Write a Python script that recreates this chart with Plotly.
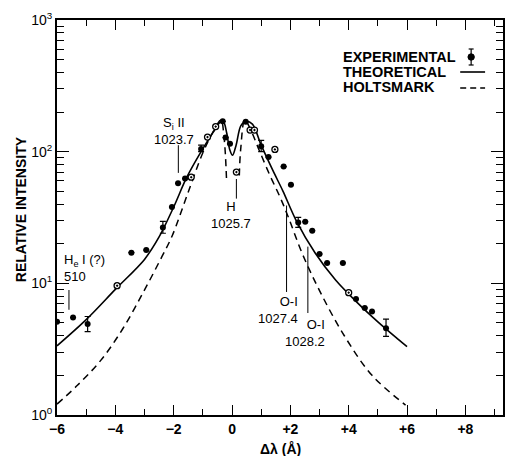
import plotly.graph_objects as go

# ---------------- data ----------------
# experimental points (filled)
exp_x = [-6.0, -5.45, -4.95, -3.45, -2.94, -2.37, -2.06, -1.85, -1.61, -1.06,
         -0.32, -0.22, -0.07, 0.47, 1.0, 1.25, 1.77, 2.02, 2.27, 2.51, 2.75,
         3.0, 3.26, 3.80, 4.25, 4.55, 4.80, 5.28]
exp_y = [5.1, 5.5, 4.9, 17.1, 17.9, 26.5, 38, 57.5, 62.5, 105,
         170, 128, 115, 169, 110, 91, 77, 56, 29, 29.4, 25.1,
         16.7, 14.3, 14.3, 7.6, 6.5, 6.1, 4.55]
exp_err_plus = [0, 0, 0.7, 0, 0, 3.0, 0, 0, 0, 7,
                0, 0, 0, 0, 12, 0, 0, 0, 2.7, 0, 0,
                0, 0, 0, 0, 0, 0, 0.8]
exp_err_minus = [0, 0, 0.6, 0, 0, 2.5, 0, 0, 0, 5,
                 0, 0, 0, 0, 10, 0, 0, 0, 2.4, 0, 0,
                 0, 0, 0, 0, 0, 0, 0.6]
# experimental points (open)
open_x = [-3.94, -1.40, -0.84, -0.56, 0.15, 0.62, 0.77, 1.47, 4.0]
open_y = [9.6, 64, 129, 155, 70, 146, 146, 104, 8.5]

# theoretical curve
theo_x = [-6, -5, -4, -3, -2.5, -2.0, -1.55, -1.05, -0.65, -0.42, -0.3, -0.18,
          -0.08, 0.02, 0.14, 0.3, 0.47, 0.7, 1.0, 1.4, 1.75, 2.2, 2.85, 3.55,
          4.25, 5.0, 5.7, 6.0]
theo_y = [3.35, 5.3, 9.0, 15.2, 22.5, 38, 64, 101, 140, 166, 170, 138,
          104, 94, 112, 157, 170, 162, 112, 72, 50, 30, 17, 10.6,
          7.3, 5.1, 3.75, 3.3]

# Holtsmark curve (two branches)
holt_x = [-6, -5.3, -4.5, -3.75, -3.05, -2.4, -2.05, -1.55, -1.0, -0.6, -0.38,
          -0.27, -0.19, None, 0.25, 0.3, 0.44, 0.62, 0.92, 1.3, 1.65, 1.95,
          2.4, 3.0, 3.85, 4.8, 5.95]
holt_y = [1.21, 1.68, 2.6, 4.5, 8.5, 16, 23, 46, 98, 148, 174,
          126, 63, None, 66, 106, 174, 150, 104, 66, 45, 31,
          17, 8.8, 4.0, 2.0, 1.19]

x_ticks = [-6, -4, -2, 0, 2, 4, 6, 8]
x_tick_labels = ["\u22126", "\u22124", "\u22122", "0", "+2", "+4", "+6", "+8"]
y_ticks = [1, 10, 100, 1000]
y_tick_labels = ["10<sup>0</sup>", "10<sup>1</sup>", "10<sup>2</sup>", "10<sup>3</sup>"]
y_minor = [m * d for d in (1, 10, 100) for m in range(2, 10)]

# spectral line markers
line_labels = ["S<sub>i</sub> II<br>1023.7", "H<br>1025.7", "H<sub>e</sub> I (?)<br>510",
               "O-I<br>1027.4", "O-I<br>1028.2"]
line_x = [-1.84, 0.15, -5.59, 1.87, 2.60]
line_top = [112, 62, 8.9, 39, 19]
line_bot = [69, 44, 6.3, 8.6, 5.95]

FONT = "Liberation Sans, Arial, sans-serif"

fig = go.Figure()

fig.add_trace(go.Scatter(
    x=holt_x, y=holt_y, mode="lines", line=dict(color="black", width=1.5, dash="7px,5px",
                                                 shape="spline", smoothing=1.0),
    connectgaps=False, showlegend=False, hoverinfo="skip"))
fig.add_trace(go.Scatter(
    x=theo_x, y=theo_y, mode="lines", line=dict(color="black", width=1.6,
                                                 shape="spline", smoothing=0.9),
    showlegend=False, hoverinfo="skip"))
fig.add_trace(go.Scatter(
    x=exp_x, y=exp_y, mode="markers",
    marker=dict(color="black", size=6, symbol="circle"),
    error_y=dict(type="data", symmetric=False, array=exp_err_plus, arrayminus=exp_err_minus,
                 color="black", thickness=1.2, width=3),
    showlegend=False))
fig.add_trace(go.Scatter(
    x=open_x, y=open_y, mode="markers",
    marker=dict(color="white", size=6, symbol="circle-dot", line=dict(color="black", width=1.3)),
    showlegend=False))

shapes = []
annotations = []
for lx, yt, yb in zip(line_x, line_top, line_bot):
    shapes.append(dict(type="line", xref="x", yref="y", x0=lx, x1=lx, y0=yb, y1=yt,
                       line=dict(color="black", width=1)))

# label text positions (data coords, log10 for y) with anchors
lab_pos = [(-2.0, 2.16, "center"), (-0.02, 1.52, "center"), (-5.82, 1.12, "left"),
           (2.32, 0.80, "right"), (3.27, 0.625, "right")]
for lab, (ax_, ay_, anc) in zip(line_labels, lab_pos):
    annotations.append(dict(x=ax_, y=ay_, xref="x", yref="y", text=lab, showarrow=False,
                            xanchor=anc, align=anc,
                            font=dict(family=FONT, size=13, color="black")))

# manual legend
def px2p(px, py):
    return (px - 57) / 448.0, (415 - py) / 395.0

leg_items = ["EXPERIMENTAL", "THEORETICAL", "HOLTSMARK"]
leg_py = [57, 72, 87]
for t, py in zip(leg_items, leg_py):
    xx, yy = px2p(342, py)
    annotations.append(dict(x=xx, y=yy, xref="paper", yref="paper", text="<b>" + t + "</b>",
                            showarrow=False, xanchor="left", yanchor="middle",
                            font=dict(family=FONT, size=14.5, color="black")))
x0, y72 = px2p(462, 72)
x1, _ = px2p(487, 72)
shapes.append(dict(type="line", xref="paper", yref="paper", x0=x0, x1=x1, y0=y72, y1=y72,
                   line=dict(color="black", width=1.6)))
_, y88 = px2p(462, 88)
shapes.append(dict(type="line", xref="paper", yref="paper", x0=x0, x1=x1, y0=y88, y1=y88,
                   line=dict(color="black", width=1.6, dash="6px,4px")))
sx, sy_top = px2p(473, 49)
_, sy_bot = px2p(473, 65)
_, sy_mid = px2p(473, 57)
cw = 2.5 / 448.0
shapes.append(dict(type="line", xref="paper", yref="paper", x0=sx, x1=sx, y0=sy_bot, y1=sy_top,
                   line=dict(color="black", width=1.2)))
for yy in (sy_top, sy_bot):
    shapes.append(dict(type="line", xref="paper", yref="paper", x0=sx - cw, x1=sx + cw, y0=yy, y1=yy,
                       line=dict(color="black", width=1.2)))
shapes.append(dict(type="circle", xref="paper", yref="paper",
                   x0=sx - 3.2 / 448, x1=sx + 3.2 / 448, y0=sy_mid - 3.2 / 395, y1=sy_mid + 3.2 / 395,
                   fillcolor="black", line=dict(color="black", width=1)))

# axis titles
annotations.append(dict(x=(282 - 57) / 448.0, y=(415 - 449) / 395.0, xref="paper", yref="paper",
                        text="<b>\u0394\u03bb (\u00c5)</b>", showarrow=False, yanchor="middle",
                        font=dict(family=FONT, size=14, color="black")))
annotations.append(dict(x=(21 - 57) / 448.0, y=(415 - 209) / 395.0, xref="paper", yref="paper",
                        text="<b>RELATIVE INTENSITY</b>", showarrow=False, textangle=-90,
                        xanchor="center", yanchor="middle",
                        font=dict(family=FONT, size=14, color="black")))

fig.update_layout(
    width=505, height=456,
    margin=dict(l=57, r=0, t=20, b=41),
    paper_bgcolor="white", plot_bgcolor="white",
    shapes=shapes, annotations=annotations,
    font=dict(family=FONT, color="black"),
    xaxis=dict(range=[-6, 9.29], tickvals=x_ticks, ticktext=x_tick_labels,
               ticks="inside", ticklen=10, tickwidth=1.3, tickcolor="black",
               showline=True, linecolor="black", linewidth=2, mirror="allticks",
               showgrid=False, zeroline=False,
               tickfont=dict(family=FONT, size=14, color="black", weight="bold"),
               minor=dict(dtick=1, tick0=0, ticks="inside", ticklen=6, tickwidth=1.2,
                          tickcolor="black", showgrid=False)),
    yaxis=dict(type="log", range=[0, 3], tickvals=y_ticks, ticktext=y_tick_labels,
               ticks="inside", ticklen=12, tickwidth=1.3, tickcolor="black",
               showline=True, linecolor="black", linewidth=2, mirror="allticks",
               showgrid=False, zeroline=False,
               tickfont=dict(family=FONT, size=14, color="black"),
               minor=dict(tickvals=y_minor, ticks="inside", ticklen=7, tickwidth=1.2,
                          tickcolor="black", showgrid=False)),
)

fig.write_html("out.html", config={"displayModeBar": False},
               post_script="document.body.style.margin='0';document.body.style.overflow='hidden';")
